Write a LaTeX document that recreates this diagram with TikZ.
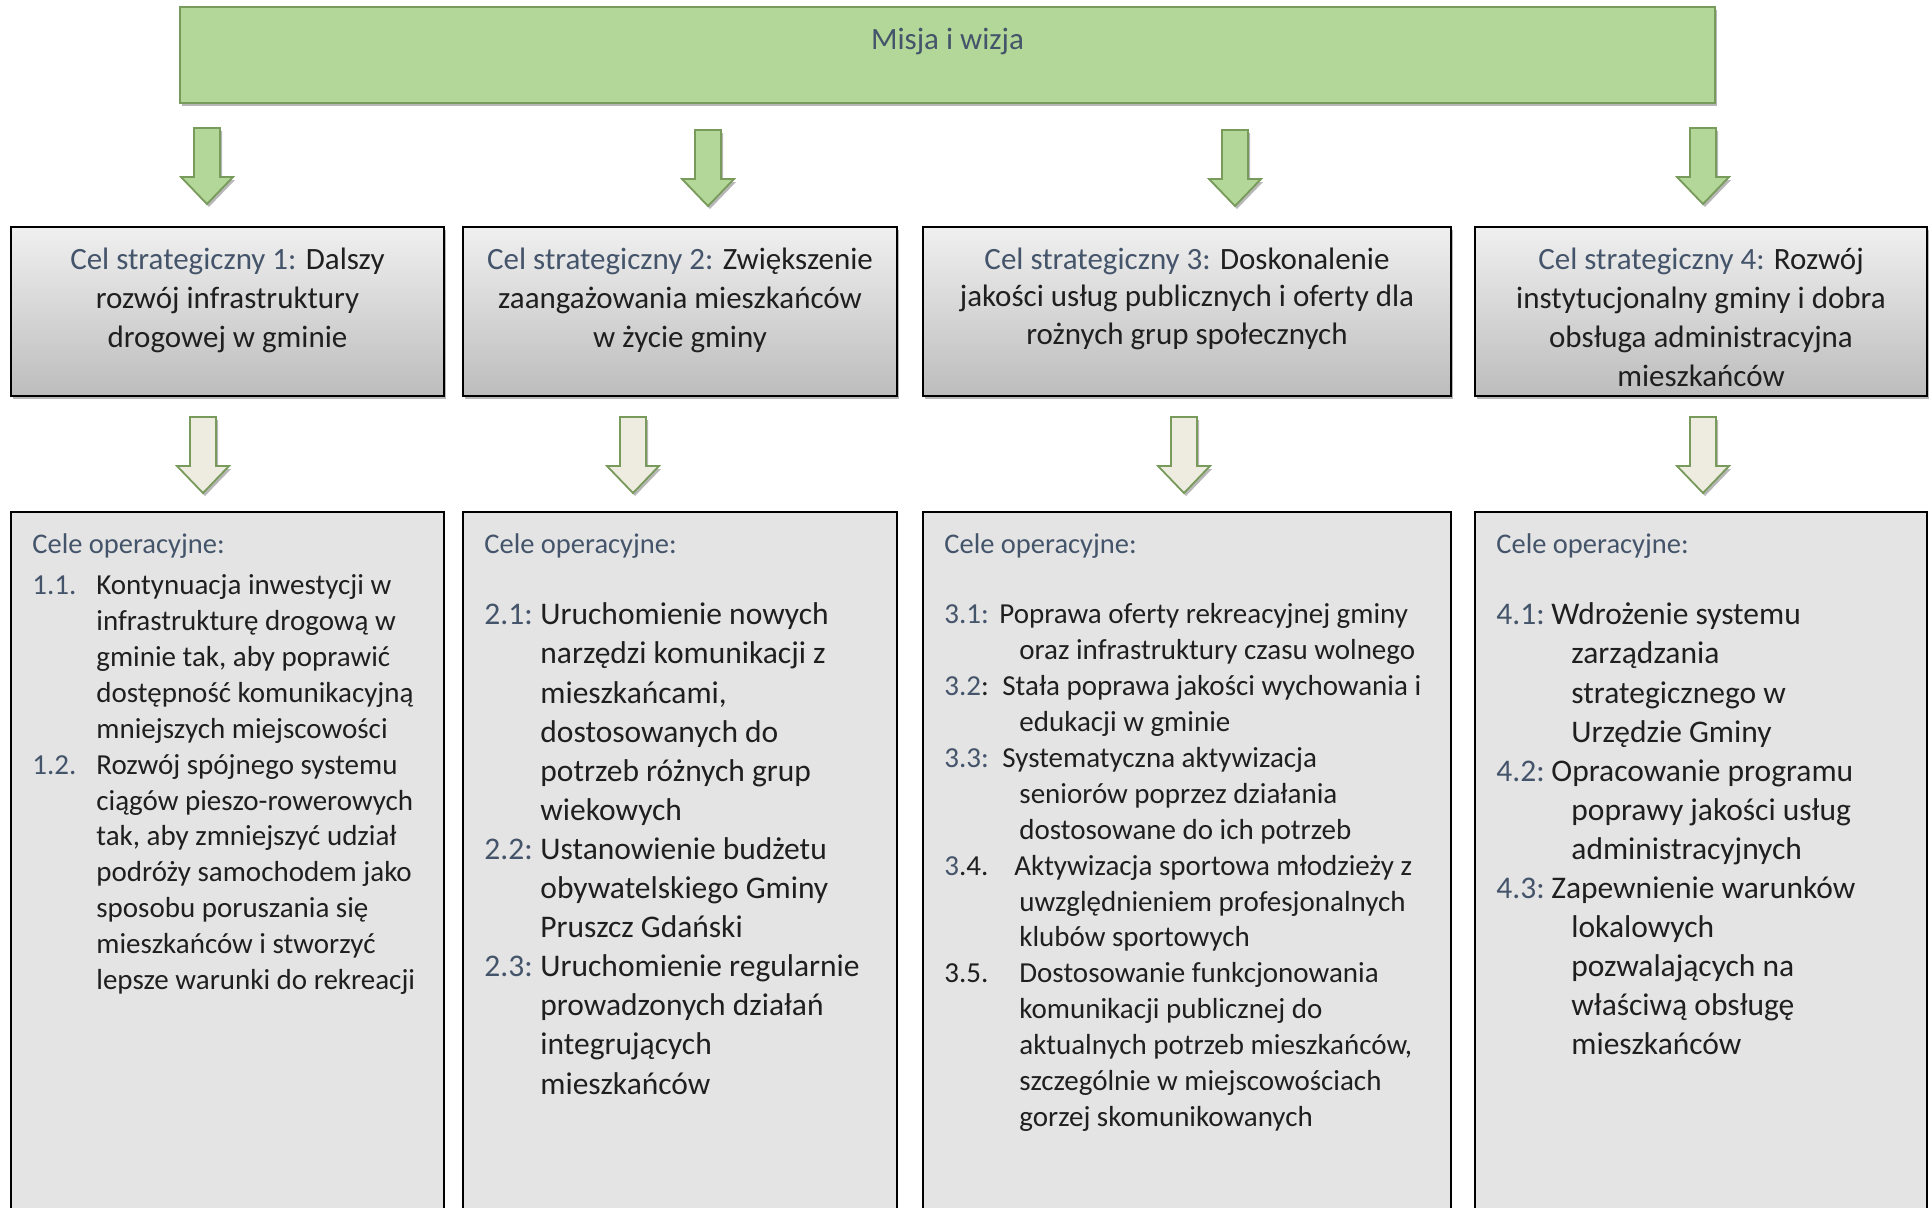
\documentclass[tikz,border=0pt]{standalone}
\usepackage{fontspec}
\setmainfont{Carlito}
\usepackage{tikz}
\usetikzlibrary{positioning}
\usetikzlibrary{shadows}

\definecolor{misjafill}{HTML}{B3D798}
\definecolor{misjaline}{HTML}{789A5B}
\definecolor{celblue}{HTML}{44546A}
\definecolor{opgray}{HTML}{E4E4E4}
\definecolor{beige}{HTML}{EEECE1}

% block arrow pointing down, top middle at #2
\newcommand{\blockarrow}[2]{%
  \draw[#1] (#2) ++(-13,0) -- ++(26,0) -- ++(0,49) -- ++(13,0)
    -- ++(-26,27) -- ++(-26,-27) -- ++(13,0) -- cycle;}
\newcommand{\cb}[1]{\textcolor{celblue}{#1}}
\newcommand{\nr}[2]{\makebox[#1][l]{\strut#2}}

\begin{document}
\begin{tikzpicture}[x=0.5pt, y=-0.5pt,
    shade/.style={drop shadow={shadow xshift=1pt, shadow yshift=-1.5pt, opacity=0.4, fill=black!70}},
    misja/.style={draw=misjaline, fill=misjafill, line width=1pt, minimum width=767.5pt, minimum height=48pt, shade},
    celbox/.style={draw=black, line width=0.8pt, top color=black!6, bottom color=black!26, minimum height=84.5pt, inner sep=0pt, outer sep=0pt, shade},
    opbox/.style={draw=black, line width=0.8pt, fill=opgray, minimum height=351.5pt, inner sep=0pt, outer sep=0pt},
    celtext/.style={font=\fontsize{15.5pt}{19.4pt}\selectfont, align=center, inner sep=0pt, text=black!88},
    ophead/.style={font=\fontsize{14.25pt}{17pt}\selectfont, text=celblue, inner sep=0pt},
    opsmall/.style={font=\fontsize{14.5pt}{17.93pt}\selectfont, align=left, inner sep=0pt, anchor=north west, text=black!88},
    opbig/.style={font=\fontsize{15.75pt}{19.55pt}\selectfont, align=left, inner sep=0pt, anchor=north west, text=black!88},
    greenarrow/.style={draw=misjaline, fill=misjafill, line width=0.9pt, shade},
    beigearrow/.style={draw=misjaline, fill=beige, line width=0.9pt, shade}]

    \clip (0,0) rectangle (1932,1207);

    % Mission
    \node[misja] (misja) at (947.5,55) {};
    \node[font=\fontsize{15.5pt}{19pt}\selectfont, text=celblue, inner sep=0pt, anchor=base] (misjat) at (947.5,49.5) {Misja i wizja};

    % Strategic goals
    \node[celbox, minimum width=216.5pt, anchor=north west] (s1) at (11,227) {};
    \node[celbox, minimum width=217pt, right=9.5pt of s1] (s2) {};
    \node[celbox, minimum width=264pt, right=13pt of s2] (s3) {};
    \node[celbox, minimum width=226pt, right=12pt of s3] (s4) {};

    \node[celtext, below=7.65pt of s1.north] (s1t) {\strut\cb{Cel strategiczny 1:} Dalszy\\rozwój infrastruktury\\drogowej w gminie};
    \node[celtext, below=7.65pt of s2.north] (s2t) {\strut\cb{Cel strategiczny 2:} Zwiększenie\\zaangażowania mieszkańców\\w życie gminy};
    \node[celtext, below=7.65pt of s3.north, font=\fontsize{15.5pt}{18.8pt}\selectfont] (s3t) {\strut\cb{Cel strategiczny 3:} Doskonalenie\\jakości usług publicznych i oferty dla\\rożnych grup społecznych};
    \node[celtext, below=7.65pt of s4.north] (s4t) {\strut\cb{Cel strategiczny 4:} Rozwój\\instytucjonalny gminy i dobra\\obsługa administracyjna\\mieszkańców};

    % Operational goals
    \node[opbox, minimum width=216.5pt, below=58pt of s1] (o1) {};
    \node[opbox, minimum width=217pt, below=58pt of s2] (o2) {};
    \node[opbox, minimum width=264pt, below=58pt of s3] (o3) {};
    \node[opbox, minimum width=226pt, below=58pt of s4] (o4) {};

    \node[ophead, anchor=base west] (o1h) at ([xshift=10.5pt, yshift=-20.75pt]o1.north west) {Cele operacyjne:};
    \node[ophead, anchor=base west] (o2h) at ([xshift=10.5pt, yshift=-20.75pt]o2.north west) {Cele operacyjne:};
    \node[ophead, anchor=base west] (o3h) at ([xshift=10.5pt, yshift=-20.75pt]o3.north west) {Cele operacyjne:};
    \node[ophead, anchor=base west] (o4h) at ([xshift=10.5pt, yshift=-20.75pt]o4.north west) {Cele operacyjne:};

    \node[opsmall] (o1l) at ([xshift=10.5pt, yshift=-28.7pt]o1.north west) {%
      \nr{32pt}{\cb{1.1.}}Kontynuacja inwestycji w\\
      \hspace*{32pt}infrastrukturę drogową w\\
      \hspace*{32pt}gminie tak, aby poprawić\\
      \hspace*{32pt}dostępność komunikacyjną\\
      \hspace*{32pt}mniejszych miejscowości\\
      \nr{32pt}{\cb{1.2.}}Rozwój spójnego systemu\\
      \hspace*{32pt}ciągów pieszo-rowerowych\\
      \hspace*{32pt}tak, aby zmniejszyć udział\\
      \hspace*{32pt}podróży samochodem jako\\
      \hspace*{32pt}sposobu poruszania się\\
      \hspace*{32pt}mieszkańców i stworzyć\\
      \hspace*{32pt}lepsze warunki do rekreacji};

    \node[opbig] (o2l) at ([xshift=10.5pt, yshift=-42.55pt]o2.north west) {%
      \nr{28pt}{\cb{2.1:}}Uruchomienie nowych\\
      \hspace*{28pt}narzędzi komunikacji z\\
      \hspace*{28pt}mieszkańcami,\\
      \hspace*{28pt}dostosowanych do\\
      \hspace*{28pt}potrzeb różnych grup\\
      \hspace*{28pt}wiekowych\\
      \nr{28pt}{\cb{2.2:}}Ustanowienie budżetu\\
      \hspace*{28pt}obywatelskiego Gminy\\
      \hspace*{28pt}Pruszcz Gdański\\
      \nr{28pt}{\cb{2.3:}}Uruchomienie regularnie\\
      \hspace*{28pt}prowadzonych działań\\
      \hspace*{28pt}integrujących\\
      \hspace*{28pt}mieszkańców};

    \node[opsmall, font=\fontsize{14.5pt}{17.95pt}\selectfont] (o3l) at ([xshift=10.5pt, yshift=-43.15pt]o3.north west) {%
      \nr{27.5pt}{\cb{3.1:}}Poprawa oferty rekreacyjnej gminy\\
      \hspace*{37.5pt}oraz infrastruktury czasu wolnego\\
      \nr{29pt}{\cb{3.2}:}Stała poprawa jakości wychowania i\\
      \hspace*{37.5pt}edukacji w gminie\\
      \nr{29pt}{\cb{3.3:}}Systematyczna aktywizacja\\
      \hspace*{37.5pt}seniorów poprzez działania\\
      \hspace*{37.5pt}dostosowane do ich potrzeb\\
      \nr{35pt}{\cb{3}.4.}Aktywizacja sportowa młodzieży z\\
      \hspace*{37.5pt}uwzględnieniem profesjonalnych\\
      \hspace*{37.5pt}klubów sportowych\\
      \nr{37.5pt}{3.5.}Dostosowanie funkcjonowania\\
      \hspace*{37.5pt}komunikacji publicznej do\\
      \hspace*{37.5pt}aktualnych potrzeb mieszkańców,\\
      \hspace*{37.5pt}szczególnie w miejscowościach\\
      \hspace*{37.5pt}gorzej skomunikowanych};

    \node[opbig] (o4l) at ([xshift=10.5pt, yshift=-42.55pt]o4.north west) {%
      \nr{27.5pt}{\cb{4.1:}}Wdrożenie systemu\\
      \hspace*{37.5pt}zarządzania\\
      \hspace*{37.5pt}strategicznego w\\
      \hspace*{37.5pt}Urzędzie Gminy\\
      \nr{27.5pt}{\cb{4.2:}}Opracowanie programu\\
      \hspace*{37.5pt}poprawy jakości usług\\
      \hspace*{37.5pt}administracyjnych\\
      \nr{27.5pt}{\cb{4.3:}}Zapewnienie warunków\\
      \hspace*{37.5pt}lokalowych\\
      \hspace*{37.5pt}pozwalających na\\
      \hspace*{37.5pt}właściwą obsługę\\
      \hspace*{37.5pt}mieszkańców};

    % Arrows
    \coordinate (ga1) at (207,128);
    \coordinate (ga2) at (708,130);
    \coordinate (ga3) at (1235,130);
    \coordinate (ga4) at (1703,128);
    \coordinate (ba1) at (203,417);
    \coordinate (ba2) at (633,417);
    \coordinate (ba3) at (1184,417);
    \coordinate (ba4) at (1703,417);
    \foreach \a in {ga1,ga2,ga3,ga4} {\blockarrow{greenarrow}{\a}}
    \foreach \a in {ba1,ba2,ba3,ba4} {\blockarrow{beigearrow}{\a}}
\end{tikzpicture}
\end{document}
